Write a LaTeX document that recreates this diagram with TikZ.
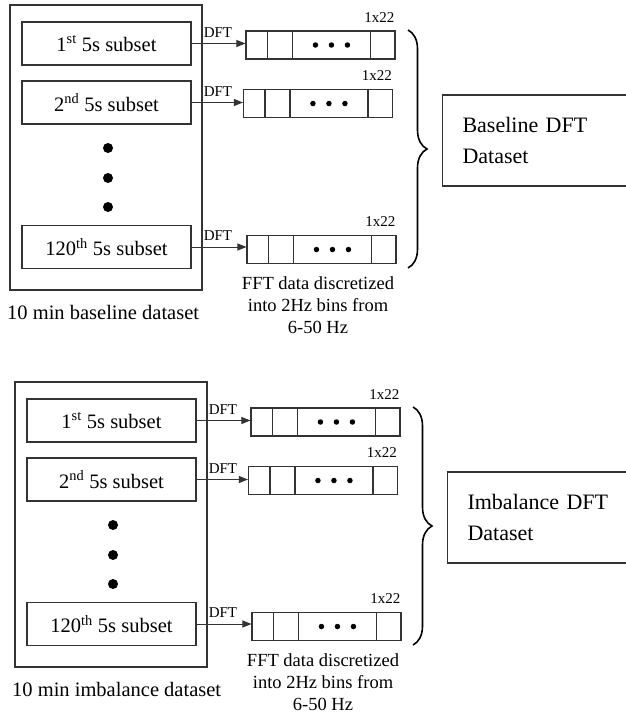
\documentclass[tikz,border=0pt]{standalone}
\usepackage{fontspec}
\setmainfont{Liberation Serif}
\usetikzlibrary{positioning,calc,arrows.meta,decorations.pathreplacing}

\tikzset{
  frame/.style={draw=black!80, line width=1.1pt, minimum width=192pt, minimum height=285pt},
  subset/.style={draw=black!80, line width=1.1pt, minimum width=169pt, minimum height=43pt, font=\fontsize{20.5}{24}\selectfont},
  fftrow/.style={draw=black!80, line width=1.1pt, minimum width=149pt, minimum height=28pt, inner sep=0pt},
  cellline/.style={draw=black!80, line width=1.1pt},
  dftlbl/.style={font=\fontsize{15}{17}\selectfont, inner sep=1pt, anchor=south west},
  sizelbl/.style={font=\fontsize{15}{17}\selectfont, inner sep=1pt, anchor=south east},
  datasetbox/.style={draw=black!80, line width=1.1pt, text width=170pt, inner xsep=20pt, minimum height=91pt, align=left, anchor=west, font=\fontsize{22}{31}\selectfont},
  caption/.style={font=\fontsize{20.5}{24}\selectfont, anchor=west, inner sep=0pt},
  fftnote/.style={font=\fontsize{18.5}{22}\selectfont, align=center},
  dft/.style={-{Triangle[length=9pt,width=7pt]}, line width=1pt, black!80},
  bigdot/.style={fill=black, draw=none, circle, minimum size=10pt, inner sep=0pt},
  smalldot/.style={fill=black, draw=none, circle, minimum size=5.5pt, inner sep=0pt},
  curly/.style={decorate, decoration={brace, amplitude=19pt}, line width=1.6pt}
}

\begin{document}
\begin{tikzpicture}[x=1pt,y=-1pt]
  \useasboundingbox (0,0) rectangle (626,715);

  % one block per dataset: baseline on top, imbalance below
  \foreach \s/\dx/\dy/\name/\Name in {A/0/0/baseline/Baseline, B/5/377/imbalance/Imbalance}{
    \begin{scope}[shift={(\dx,\dy)}]
      % 10 min dataset split into 5s subsets
      \node[frame] (out\s) at (106,147.5) {};
      \node[subset] (s1\s) at (106.5,43.5) {1\textsuperscript{st} 5s subset};
      \node[subset] (s2\s) at (106.5,102.5) {2\textsuperscript{nd} 5s subset};
      \node[subset] (s3\s) at (106.5,247) {120\textsuperscript{th} 5s subset};
      \foreach \y in {148,178,207}
        \node[bigdot] (d\y\s) at (108,\y) {};
      \node[caption] (cap\s) at (7,312) {10 min \name\ dataset};

      % 1x22 rows of FFT bins
      \node[fftrow] (a1\s) at (320.5,45) {};
      \node[fftrow] (a2\s) at (318,103.5) {};
      \node[fftrow] (a3\s) at (321.5,249.5) {};
      \foreach \k in {1,2,3}{
        \foreach \off in {22,47,125}
          \draw[cellline] ([xshift=\off pt]a\k\s.north west) -- ([xshift=\off pt]a\k\s.south west);
        \foreach \off/\j in {70/1,86/2,102/3}
          \node[smalldot] (p\j\k\s) at ([xshift=\off pt]a\k\s.west) {};
        \node[sizelbl] (sz\k\s) at ([yshift=7pt]a\k\s.north east) {1x22};
        \draw[dft] (s\k\s.east) -- (s\k\s.east -| a\k\s.west);
        \node[dftlbl] (dft\k\s) at ([xshift=11pt,yshift=5pt]s\k\s.east) {DFT};
      }
      \node[fftnote] (note\s) at (318,305) {FFT data discretized\\into 2Hz bins from\\6-50 Hz};

      % brace and resulting dataset
      \coordinate (bt\s) at (408,30);
      \coordinate (bb\s) at (408,268);
      \draw[curly] (bt\s) -- (bb\s);
      \node[datasetbox] (set\s) at (442,140.5) {\Name\ DFT\\Dataset};
    \end{scope}
  }
\end{tikzpicture}
\end{document}
